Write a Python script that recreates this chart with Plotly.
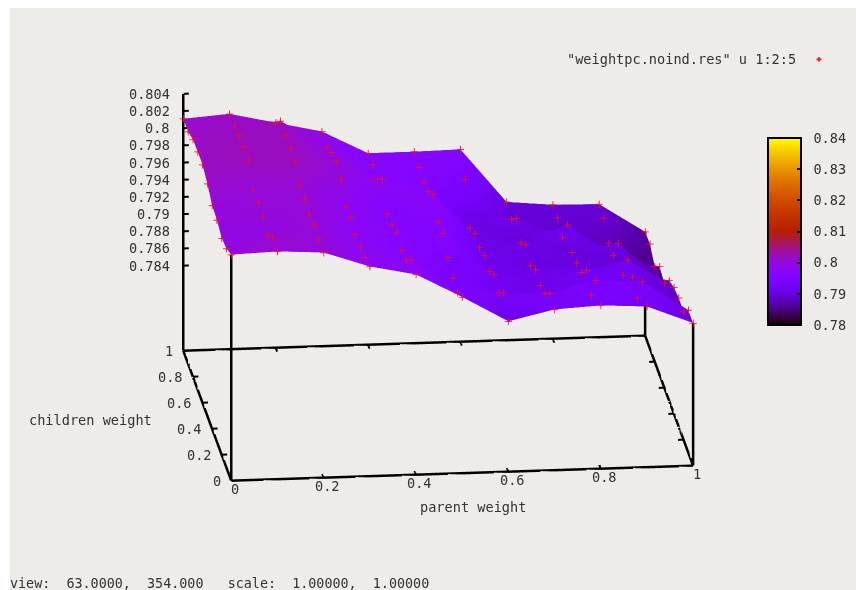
import math
import plotly.graph_objects as go

parent_weight = [0.0, 0.1, 0.2, 0.3, 0.4, 0.5, 0.6, 0.7, 0.8, 0.9, 1.0]
children_weight = [0.0, 0.1, 0.2, 0.3, 0.4, 0.5, 0.6, 0.7, 0.8, 0.9, 1.0]

# Each row: one parent weight, values listed from children weight 1.0 down to 0.0
p00 = [.8011, .8011, .8017, .8018, .8018, .8011, .8001, .7999, .7993, .7996, .8004]
p01 = [.8015, .8015, .8020, .8022, .8022, .8002, .8003, .8001, .7995, .8008, .8006]
p02 = [.8003, .8020, .8018, .8018, .8018, .8006, .8005, .8002, .8005, .8003, .8003]
p03 = [.7991, .7988, .7997, .8001, .7996, .7979, .7982, .7977, .7978, .7981, .7985]
p04 = [.7964, .7966, .7964, .7979, .7954, .7956, .7963, .7957, .7961, .7976, .7974]
p05 = [.7964, .7961, .7959, .7963, .7975, .7958, .7960, .7947, .7938, .7936, .7946]
p06 = [.7965, .7945, .7904, .7912, .7911, .7917, .7914, .7925, .7919, .7934, .7916]
p07 = [.7902, .7897, .7913, .7900, .7913, .7904, .7914, .7911, .7917, .7932, .7928]
p08 = [.7897, .7897, .7889, .7919, .7902, .7905, .7909, .7927, .7913, .7945, .7931]
p09 = [.7896, .7895, .7881, .7882, .7911, .7889, .7922, .7917, .7908, .7942, .7928]
p10 = [.7862, .7863, .7852, .7867, .7863, .7881, .7888, .7891, .7890, .7907, .7907]
rows = [p00, p01, p02, p03, p04, p05, p06, p07, p08, p09, p10]

z_floor = 0.7741
z_top = 0.804
x_ticks = [0, 0.2, 0.4, 0.6, 0.8, 1]
y_ticks = [0, 0.2, 0.4, 0.6, 0.8, 1]
z_ticks = [0.784, 0.786, 0.788, 0.79, 0.792, 0.794, 0.796, 0.798, 0.8, 0.802, 0.804]
cbar_ticks = [0.78, 0.79, 0.8, 0.81, 0.82, 0.83, 0.84]

BG = "#EEECE8"
FONT = "DejaVu Sans Mono"
FS = 13.6
INK = "#333333"
W, H = 856, 590


def fx(p):
    return p / W


def fy(p):
    return 1 - p / H


def rgb_formula(t):
    r = math.sqrt(t)
    g = t ** 3
    b = max(0.0, math.sin(2 * math.pi * t))
    return f"rgb({round(255*r)},{round(255*g)},{round(255*b)})"


colorscale = [[i / 60, rgb_formula(i / 60)] for i in range(61)]

z_grid = [[rows[ix][10 - iy] for ix in range(11)] for iy in range(11)]

fig = go.Figure()
fig.add_trace(go.Surface(
    x=parent_weight, y=children_weight, z=z_grid,
    cmin=0.78, cmax=0.84, colorscale=colorscale,
    lighting=dict(ambient=1, diffuse=0, specular=0, fresnel=0),
    showscale=True,
    colorbar=dict(
        x=fx(768), xanchor="left", xpad=0, ypad=0,
        y=fy(325), yanchor="bottom", len=187 / H, lenmode="fraction",
        thickness=33, thicknessmode="pixels",
        outlinecolor="black", outlinewidth=2, borderwidth=0,
        tickvals=cbar_ticks, ticktext=[f" {v:g}" for v in cbar_ticks],
        ticks="inside", ticklen=5, tickwidth=2, tickcolor="black",
        tickfont=dict(family=FONT, size=FS, color=INK),
    ),
    showlegend=False,
))

LINE = dict(color="black", width=5)


def edge(xs, ys, zs):
    fig.add_trace(go.Scatter3d(x=xs, y=ys, z=zs, mode="lines", line=LINE,
                               showlegend=False, hoverinfo="skip"))


floor = [z_floor] * len(parent_weight)
edge(parent_weight, [0] * len(parent_weight), floor)
edge(parent_weight, [1] * len(parent_weight), floor)
edge([0] * len(children_weight), children_weight, floor)
edge([1] * len(children_weight), children_weight, floor)
edge([0, 0], [0, 0], [z_floor, p00[10]])
edge([1, 1], [0, 0], [z_floor, p10[10]])
edge([1, 1], [1, 1], [z_floor, p10[0]])
edge([0, 0], [1, 1], [z_floor, z_top])

# inward tick marks
tx, ty, tz = [], [], []
for v in z_ticks:
    tx += [0, 0.012, None]; ty += [1, 1, None]; tz += [v, v, None]
for v in y_ticks[1:-1]:
    tx += [0, 0.012, None, 1, 0.988, None]; ty += [v, v, None, v, v, None]
    tz += [z_floor, z_floor, None, z_floor, z_floor, None]
for v in x_ticks[1:-1]:
    tx += [v, v, None, v, v, None]; ty += [0, 0.03, None, 1, 0.97, None]
    tz += [z_floor, z_floor, None, z_floor, z_floor, None]
fig.add_trace(go.Scatter3d(x=tx, y=ty, z=tz, mode="lines", line=dict(color="black", width=4),
                           showlegend=False, hoverinfo="skip"))

px, py, pz = [], [], []
for ix, row in enumerate(rows):
    for j, v in enumerate(row):
        px.append(parent_weight[ix])
        py.append(children_weight[10 - j])
        pz.append(v)
# markers live in an overlaid scene so the surface never cuts them
fig.add_trace(go.Scatter3d(
    x=px, y=py, z=pz, mode="markers", name=" ", scene="scene2",
    marker=dict(symbol="cross", size=4, color="#E8112D"), showlegend=True))


def axis(rng, tickvals):
    return dict(
        title=dict(text=""),
        range=rng, autorange=False,
        tickvals=tickvals,
        showticklabels=False,
        showgrid=False, zeroline=False, showbackground=False, showspikes=False,
        showline=False, ticks="",
    )


def tick_label(x, y, z, text, xanchor, xshift, yshift):
    return dict(x=x, y=y, z=z, text=text, showarrow=False,
                xanchor=xanchor, yanchor="middle", xshift=xshift, yshift=yshift,
                font=dict(family=FONT, size=FS, color=INK))


scene_labels = (
    [tick_label(0, 1, v, f"{v:g}", "right", -11, 0) for v in z_ticks]
    + [tick_label(0, v, z_floor, f"{v:g}", "right", -8, 0) for v in y_ticks]
    + [tick_label(v, 0, z_floor, f"{v:g}", "center", 4, -8) for v in x_ticks]
)

w = (-0.1039, -0.9493, 0.2965)
r = 3.0
c = (-0.036, -0.0115, -0.0494)
k = 1.575
aspect = dict(x=1 * k, y=0.949 * k, z=0.579 * k)
camera = dict(
    projection=dict(type="orthographic"),
    eye=dict(x=c[0] + w[0] * r, y=c[1] + w[1] * r, z=c[2] + w[2] * r),
    up=dict(x=0, y=0, z=1),
    center=dict(x=c[0], y=c[1], z=c[2]),
)
domain = dict(x=[0, 1], y=[0, 1])
hidden = dict(visible=False, autorange=False)
fig.update_layout(
    width=W, height=H, margin=dict(l=0, r=0, t=0, b=0),
    paper_bgcolor=BG,
    shapes=[
        dict(type="rect", xref="paper", yref="paper", x0=0, x1=fx(10), y0=0, y1=1,
             fillcolor="white", line=dict(width=0), layer="below"),
        dict(type="rect", xref="paper", yref="paper", x0=0, x1=1, y0=fy(8), y1=1,
             fillcolor="white", line=dict(width=0), layer="below"),
    ],
    scene=dict(
        domain=domain, bgcolor="rgba(0,0,0,0)",
        xaxis=axis([0, 1], x_ticks),
        yaxis=axis([0, 1], y_ticks),
        zaxis=axis([z_floor, z_top], z_ticks),
        aspectmode="manual", aspectratio=aspect, camera=camera,
        annotations=scene_labels,
    ),
    scene2=dict(
        domain=domain, bgcolor="rgba(0,0,0,0)",
        xaxis=dict(hidden, range=[0, 1]),
        yaxis=dict(hidden, range=[0, 1]),
        zaxis=dict(hidden, range=[z_floor, z_top]),
        aspectmode="manual", aspectratio=aspect, camera=camera,
    ),
    legend=dict(
        x=fx(799), xanchor="left", y=fy(44), yanchor="top",
        bgcolor="rgba(0,0,0,0)", borderwidth=0, itemwidth=30,
        font=dict(family=FONT, size=FS, color=INK),
    ),
    annotations=[
        dict(text='"weightpc.noind.res" u 1:2:5', x=fx(798), y=fy(59),
             xref="paper", yref="paper", xanchor="right", yanchor="middle", showarrow=False,
             font=dict(family=FONT, size=FS, color=INK)),
        dict(text="view:  63.0000,  354.000   scale:  1.00000,  1.00000",
             x=fx(8), y=fy(583), xref="paper", yref="paper",
             xanchor="left", yanchor="middle", showarrow=False,
             font=dict(family=FONT, size=13.4, color=INK)),
        dict(text="parent weight", x=fx(473), y=fy(507), xref="paper", yref="paper",
             xanchor="center", yanchor="middle", showarrow=False,
             font=dict(family=FONT, size=FS, color=INK)),
        dict(text="children weight", x=fx(90), y=fy(420), xref="paper", yref="paper",
             xanchor="center", yanchor="middle", showarrow=False,
             font=dict(family=FONT, size=FS, color=INK)),
    ],
)
fig.write_html("out.html", config=dict(displayModeBar=False),
               post_script="document.body.style.margin='0';")
